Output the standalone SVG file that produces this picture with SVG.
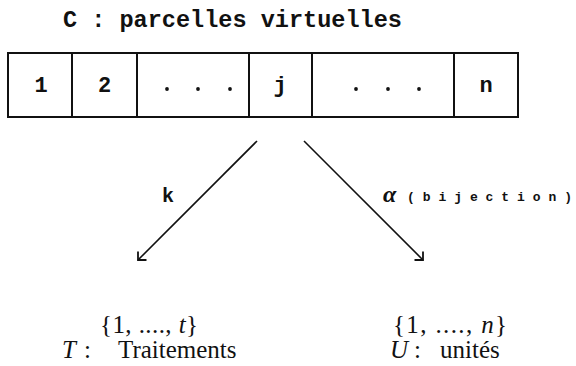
<svg xmlns="http://www.w3.org/2000/svg" width="576" height="366" viewBox="0 0 576 366">
<style>
.mono{font-family:"Liberation Mono","DejaVu Sans Mono",monospace;font-weight:bold;fill:#111}
.serif{font-family:"Liberation Serif","DejaVu Serif",serif;fill:#111}
.cell{fill:#fff;stroke:#111;stroke-width:2}
.conn{stroke:#111;stroke-width:1.6;fill:none}
.dot{fill:#111}
.it{font-style:italic}
</style>
<defs>
<marker id="ah" markerUnits="userSpaceOnUse" viewBox="-10 -10 12 20" refX="0" refY="0" markerWidth="12" markerHeight="20" orient="auto">
<path d="M-6,-6 L0,0 L-6,6" fill="none" stroke="#111" stroke-width="1.8"/>
</marker>
</defs>
<text id="title" class="mono" x="63" y="27" font-size="23" textLength="339" lengthAdjust="spacingAndGlyphs">C : parcelles virtuelles</text>
<g id="array">
<g id="cell-1"><rect class="cell" x="8" y="53" width="64" height="64"/><text class="mono" x="41" y="92" font-size="22" text-anchor="middle">1</text></g>
<g id="cell-2"><rect class="cell" x="72" y="53" width="65" height="64"/><text class="mono" x="104.5" y="92" font-size="22" text-anchor="middle">2</text></g>
<g id="cell-dots1"><rect class="cell" x="137" y="53" width="112" height="64"/><circle class="dot" cx="167" cy="89" r="1.9"/><circle class="dot" cx="198" cy="89" r="1.9"/><circle class="dot" cx="230" cy="89" r="1.9"/></g>
<g id="cell-j"><rect class="cell" x="249" y="53" width="63" height="64"/><text class="mono" x="280" y="92" font-size="22" text-anchor="middle">j</text></g>
<g id="cell-dots2"><rect class="cell" x="312" y="53" width="142" height="64"/><circle class="dot" cx="356" cy="89" r="1.9"/><circle class="dot" cx="388" cy="89" r="1.9"/><circle class="dot" cx="419" cy="89" r="1.9"/></g>
<g id="cell-n"><rect class="cell" x="454" y="53" width="64" height="64"/><text class="mono" x="486" y="92" font-size="22" text-anchor="middle">n</text></g>
</g>
<g id="connectors">
<line class="conn" x1="257" y1="141" x2="138" y2="260" marker-end="url(#ah)"/>
<line class="conn" x1="304" y1="141" x2="423" y2="260" marker-end="url(#ah)"/>
<text class="mono" x="162" y="202" font-size="20">k</text>
<text class="serif" x="383" y="202" font-size="24" font-style="italic" font-weight="bold">α</text>
<text class="mono" x="407" y="201" font-size="13" textLength="165" lengthAdjust="spacing">(bijection)</text>
</g>
<g id="set-T">
<text class="serif" x="100" y="333" font-size="25" textLength="98" lengthAdjust="spacing">{1, ...., <tspan class="it">t</tspan>}</text>
<text class="serif" y="358" font-size="25"><tspan class="it" x="62">T</tspan><tspan x="84">:</tspan><tspan x="118">Traitements</tspan></text>
</g>
<g id="set-U">
<text class="serif" x="393" y="333" font-size="25" textLength="114" lengthAdjust="spacing">{1, ...., <tspan class="it">n</tspan>}</text>
<text class="serif" y="358" font-size="25"><tspan class="it" x="390">U</tspan><tspan x="414">:</tspan><tspan x="440">unités</tspan></text>
</g>
</svg>
